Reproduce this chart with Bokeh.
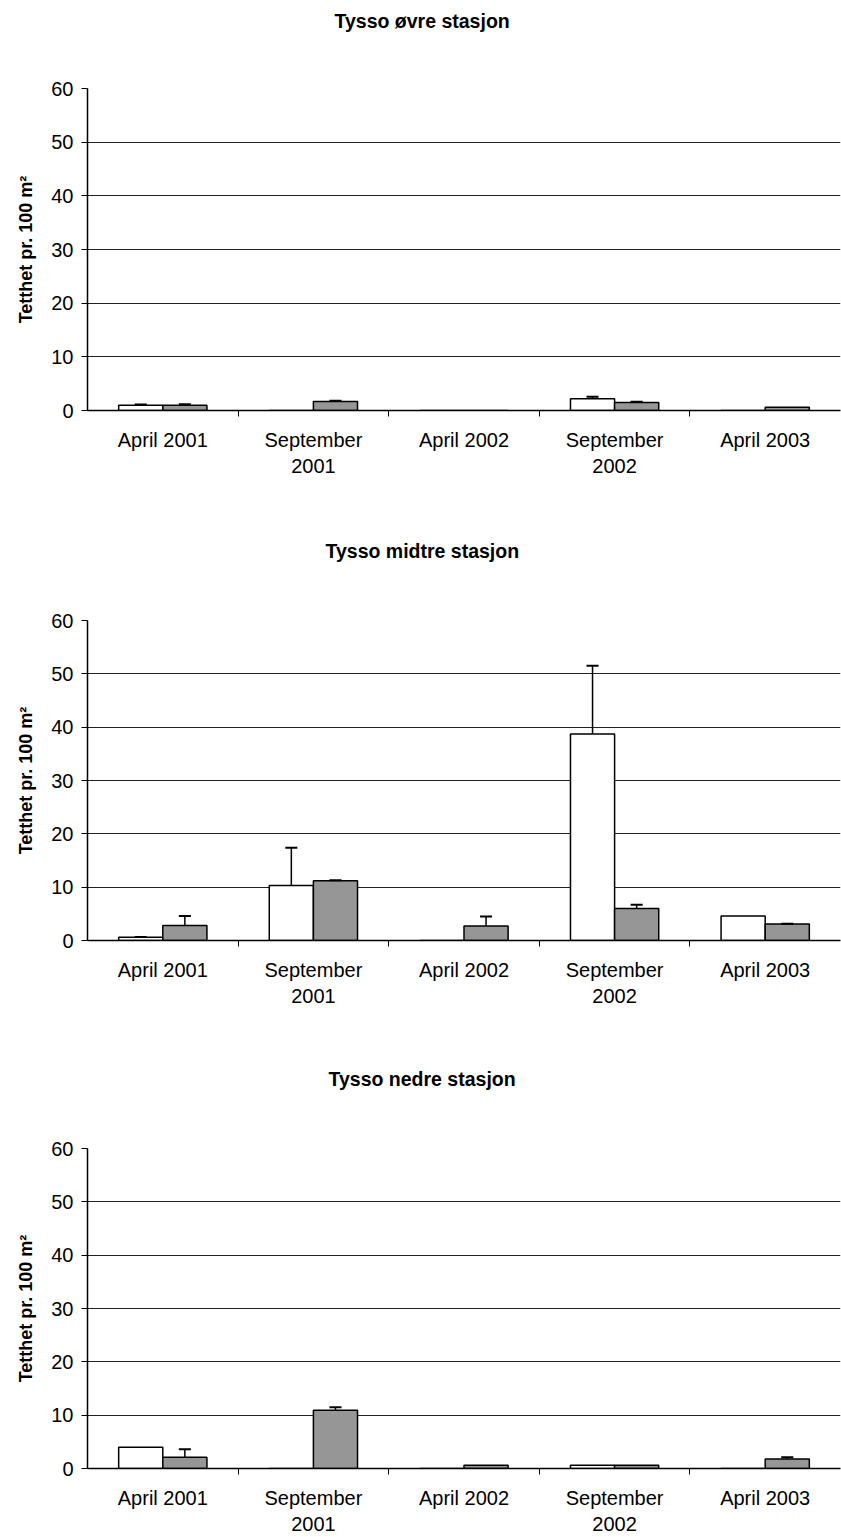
from bokeh.plotting import figure
from bokeh.models import Range1d, FixedTicker, Title
from bokeh.layouts import column
from bokeh.embed import file_html
from bokeh.resources import INLINE

# ---- data ----
periods = ["April 2001", "September\n2001", "April 2002", "September\n2002", "April 2003"]
y_ticks = [0, 10, 20, 30, 40, 50, 60]

titles = ["Tysso øvre stasjon", "Tysso midtre stasjon", "Tysso nedre stasjon"]
y_label = "Tetthet pr. 100 m²"

ovre_white = [1.0, 0.0, 0.0, 2.2, 0.0]
ovre_white_err = [0.1, 0.0, 0.0, 0.35, 0.0]
ovre_gray = [1.0, 1.7, 0.0, 1.5, 0.6]
ovre_gray_err = [0.15, 0.1, 0.0, 0.15, 0.0]

midtre_white = [0.6, 10.3, 0.0, 38.7, 4.6]
midtre_white_err = [0.05, 7.1, 0.0, 12.8, 0.0]
midtre_gray = [2.8, 11.2, 2.7, 6.0, 3.1]
midtre_gray_err = [1.8, 0.1, 1.8, 0.7, 0.05]

nedre_white = [4.0, 0.0, 0.0, 0.6, 0.0]
nedre_white_err = [0.0, 0.0, 0.0, 0.0, 0.0]
nedre_gray = [2.1, 10.9, 0.6, 0.6, 1.8]
nedre_gray_err = [1.5, 0.6, 0.0, 0.0, 0.3]

FONT = "Liberation Sans"
GRAY = "#969696"
BAR_W = 0.293
CAP = 0.04


def add_series(p, xs, vals, errs, fill):
    p.vbar(x=xs, top=vals, bottom=0, width=BAR_W, fill_color=fill,
           line_color="black", line_width=1.5)
    ex = [x for x, e in zip(xs, errs) if e > 0]
    ey0 = [v for v, e in zip(vals, errs) if e > 0]
    ey1 = [v + e for v, e in zip(vals, errs) if e > 0]
    if ex:
        p.segment(x0=ex, y0=ey0, x1=ex, y1=ey1, line_color="black", line_width=1.5)
        p.segment(x0=[x - CAP for x in ex], y0=ey1, x1=[x + CAP for x in ex], y1=ey1,
                  line_color="black", line_width=2)


def make(title, offset, white, white_err, gray, gray_err, height, top, bottom):
    p = figure(width=841, height=height, x_range=Range1d(0.5, 5.5), y_range=Range1d(0, 60),
               output_backend="svg", toolbar_location=None,
               min_border_left=87, min_border_right=1,
               min_border_top=top, min_border_bottom=bottom)
    p.background_fill_color = "white"
    p.border_fill_color = "white"
    p.outline_line_color = None

    # real title (outermost)
    p.title.text = title
    p.title.align = "left"
    p.title.offset = offset
    p.title.standoff = 12
    p.title.text_font = FONT
    p.title.text_font_size = "19.5px"
    p.title.text_font_style = "bold"
    p.title.text_color = "black"

    # spacer between title and frame
    spacer = Title(text=" ", text_font_size="1px", standoff=top - 40)
    p.add_layout(spacer, "above")

    pos = list(range(1, len(periods) + 1))
    xw = [x - BAR_W / 2 for x in pos]
    xg = [x + BAR_W / 2 for x in pos]
    add_series(p, xw, white, white_err, "white")
    add_series(p, xg, gray, gray_err, GRAY)

    # x axis
    p.xaxis.ticker = FixedTicker(ticks=pos, minor_ticks=[x + 0.5 for x in pos[:-1]])
    p.xaxis.major_label_overrides = {x: lab for x, lab in zip(pos, periods)}
    p.xaxis.major_tick_out = 0
    p.xaxis.major_tick_in = 0
    p.xaxis.minor_tick_out = 6
    p.xaxis.minor_tick_in = 0
    p.xaxis.minor_tick_line_color = "black"
    p.xaxis.axis_line_color = "black"
    p.xaxis.axis_line_width = 1.5
    p.xaxis.major_label_text_font = FONT
    p.xaxis.major_label_text_font_size = "20px"
    p.xaxis.major_label_text_color = "black"
    p.xaxis.major_label_text_line_height = 1.2
    p.xaxis.major_label_standoff = 12

    # y axis
    p.yaxis.ticker = FixedTicker(ticks=y_ticks, minor_ticks=[])
    p.yaxis.major_tick_out = 6
    p.yaxis.major_tick_in = 0
    p.yaxis.major_tick_line_color = "black"
    p.yaxis.axis_line_color = "black"
    p.yaxis.axis_line_width = 1.5
    p.yaxis.major_label_text_font = FONT
    p.yaxis.major_label_text_font_size = "20px"
    p.yaxis.major_label_text_color = "black"
    p.yaxis.major_label_standoff = 8
    p.yaxis.axis_label = y_label
    p.yaxis.axis_label_text_font = FONT
    p.yaxis.axis_label_text_font_size = "18px"
    p.yaxis.axis_label_text_font_style = "bold"
    p.yaxis.axis_label_text_color = "black"
    p.yaxis.axis_label_standoff = 12

    p.xgrid.visible = False
    p.ygrid.ticker = FixedTicker(ticks=y_ticks)
    p.ygrid.grid_line_color = "#222222"
    p.ygrid.grid_line_width = 1
    return p


p1 = make(titles[0], 247, ovre_white, ovre_white_err, ovre_gray, ovre_gray_err, 530, 88, 120)
p2 = make(titles[1], 238, midtre_white, midtre_white_err, midtre_gray, midtre_gray_err, 528, 90, 118)
p3 = make(titles[2], 241, nedre_white, nedre_white_err, nedre_gray, nedre_gray_err, 479, 90, 67)

layout = column(p1, p2, p3, spacing=0)
open("out.html", "w").write(file_html(layout, INLINE))
